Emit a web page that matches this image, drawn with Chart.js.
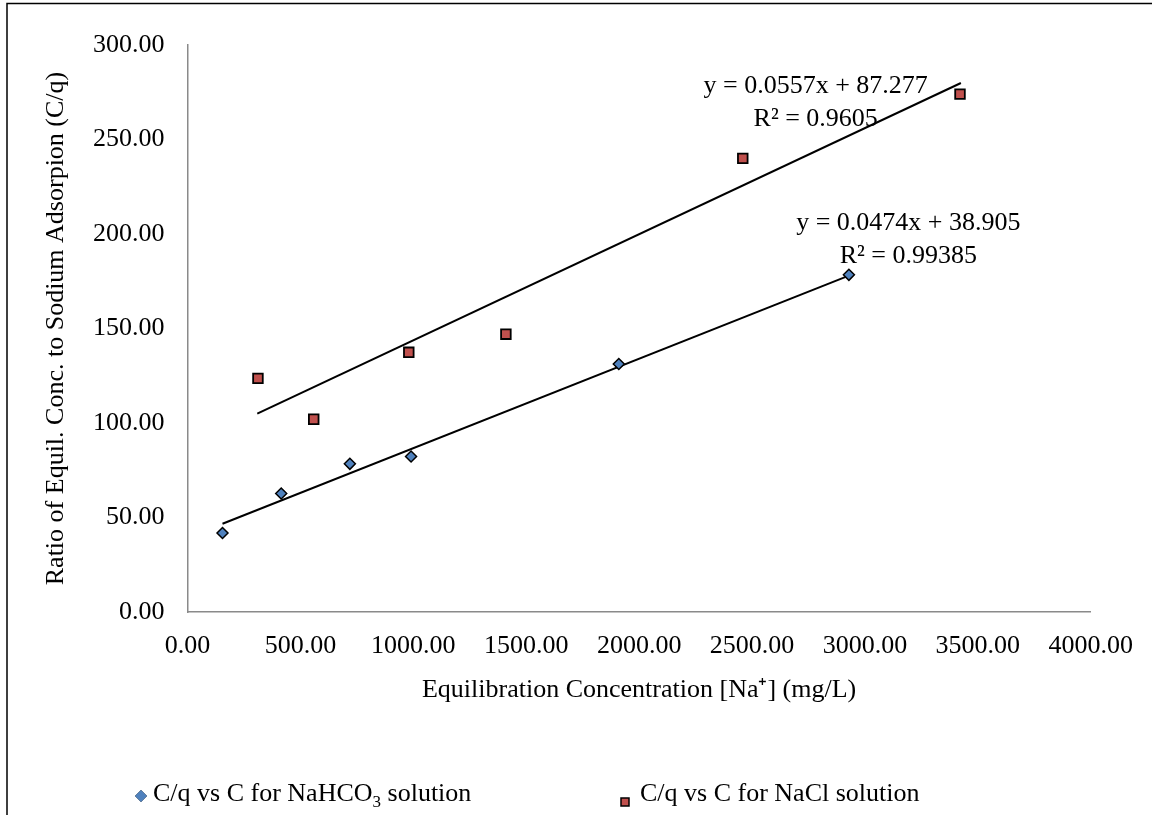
<!DOCTYPE html>
<html>
<head>
<meta charset="utf-8">
<script src="https://cdn.jsdelivr.net/npm/chart.js@4.4.1/dist/chart.umd.min.js"></script>
<style>
  html, body { margin: 0; padding: 0; background: #fff; }
  #wrap { width: 1152px; height: 815px; }
</style>
</head>
<body>
<div id="wrap"><canvas id="chart" width="1152" height="815"></canvas></div>
<script>
// values
const nahco3X = [155, 415, 719, 990, 1910, 2929];
const nahco3Y = [41.8, 62.7, 78.4, 82.3, 131.2, 178.4];
const naclX = [312, 559, 980, 1410, 2459, 3421];
const naclY = [123.6, 102.0, 137.4, 147.0, 240.0, 274.0];

// trendline ends, as drawn
const nahco3TrendX = [155, 2929];
const nahco3TrendY = [46.7, 178.0];
const naclTrendX = [309, 3425];
const naclTrendY = [105.0, 279.9];

const nahco3Eq = ['y = 0.0474x + 38.905', 'R² = 0.99385'];
const naclEq = ['y = 0.0557x + 87.277', 'R² = 0.9605'];

const xTitle = 'Equilibration Concentration [Na⁺] (mg/L)';
const yTitle = 'Ratio of Equil. Conc. to Sodium Adsorpion (C/q)';

const FONT = "'Liberation Serif', 'Times New Roman', serif";

const toPoints = (xs, ys) => xs.map((x, i) => ({ x: x, y: ys[i] }));

// where the equation boxes sit (data units, centre of first line)
const eqSpots = [
  { lines: naclEq, at: [2782, 278.2] },
  { lines: nahco3Eq, at: [3192, 205.6] }
];

const extras = {
  id: 'extras',
  beforeDraw(chart) {
    const ctx = chart.ctx;
    ctx.save();
    ctx.strokeStyle = '#000';
    ctx.lineWidth = 1.5;
    ctx.beginPath();
    ctx.moveTo(7, 815);
    ctx.lineTo(7, 3.5);
    ctx.lineTo(1152, 3.5);
    ctx.stroke();
    ctx.restore();
  },
  afterDraw(chart) {
    const { ctx, scales: { x, y } } = chart;
    ctx.save();
    ctx.fillStyle = '#000';
    ctx.font = '26px ' + FONT;
    ctx.textAlign = 'center';
    ctx.textBaseline = 'middle';
    eqSpots.forEach(s => {
      const px = x.getPixelForValue(s.at[0]);
      const py = y.getPixelForValue(s.at[1]);
      s.lines.forEach((t, i) => ctx.fillText(t, px, py + i * 33));
    });

    // legend
    ctx.textAlign = 'left';
    Chart.helpers.drawPoint(ctx, { pointStyle: 'rectRot', radius: 6, borderWidth: 0 }, 141, 796);
    ctx.fillStyle = '#4F81BD';
    ctx.fill();
    ctx.fillStyle = '#000';
    let lx = 153;
    const ly = 794;
    ctx.font = '26px ' + FONT;
    ctx.fillText('C/q vs C for NaHCO', lx, ly);
    lx += ctx.measureText('C/q vs C for NaHCO').width;
    ctx.font = '17px ' + FONT;
    ctx.fillText('3', lx, ly + 9);
    lx += ctx.measureText('3').width;
    ctx.font = '26px ' + FONT;
    ctx.fillText(' solution', lx, ly);

    ctx.fillStyle = '#C0504D';
    ctx.strokeStyle = '#000';
    ctx.lineWidth = 1.5;
    ctx.fillRect(621, 798, 8, 8);
    ctx.strokeRect(621, 798, 8, 8);
    ctx.fillStyle = '#000';
    ctx.fillText('C/q vs C for NaCl solution', 640, ly);
    ctx.restore();
  }
};

new Chart(document.getElementById('chart'), {
  type: 'scatter',
  data: {
    datasets: [
      {
        label: 'C/q vs C for NaHCO3 solution',
        data: toPoints(nahco3X, nahco3Y),
        pointStyle: 'rectRot',
        pointRadius: 5.5,
        backgroundColor: '#4F81BD',
        borderColor: '#000',
        borderWidth: 1.5
      },
      {
        label: 'C/q vs C for NaCl solution',
        data: toPoints(naclX, naclY),
        pointStyle: 'rect',
        pointRadius: 6.8,
        backgroundColor: '#C0504D',
        borderColor: '#000',
        borderWidth: 1.8
      },
      {
        label: 'trend NaHCO3',
        data: toPoints(nahco3TrendX, nahco3TrendY),
        showLine: true,
        pointRadius: 0,
        borderColor: '#000',
        borderWidth: 2
      },
      {
        label: 'trend NaCl',
        data: toPoints(naclTrendX, naclTrendY),
        showLine: true,
        pointRadius: 0,
        borderColor: '#000',
        borderWidth: 2
      }
    ]
  },
  options: {
    responsive: false,
    animation: false,
    layout: { padding: { left: 10, top: 45, right: 57, bottom: 93 } },
    plugins: {
      legend: { display: false },
      tooltip: { enabled: false }
    },
    scales: {
      x: {
        min: 0,
        max: 4000,
        afterFit: s => { s.height = 110; },
        grid: { display: false, drawTicks: false },
        border: { display: true, color: '#8a8a8a', width: 1.5 },
        ticks: {
          stepSize: 500,
          padding: 19,
          color: '#000',
          font: { family: FONT, size: 26 },
          maxRotation: 0,
          callback: v => v.toFixed(2)
        },
        title: {
          display: true,
          text: xTitle,
          color: '#000',
          font: { family: FONT, size: 26 },
          padding: { top: 0, bottom: 16 }
        }
      },
      y: {
        min: 0,
        max: 300,
        afterFit: s => { s.width = 177.5; },
        grid: { display: false, drawTicks: false },
        border: { display: true, color: '#8a8a8a', width: 1.5 },
        ticks: {
          stepSize: 50,
          padding: 23,
          color: '#000',
          font: { family: FONT, size: 26 },
          callback: v => v.toFixed(2)
        },
        title: {
          display: true,
          text: yTitle,
          color: '#000',
          font: { family: FONT, size: 26 },
          padding: { top: 31, bottom: 0 }
        }
      }
    }
  },
  plugins: [extras]
});
</script>
</body>
</html>
